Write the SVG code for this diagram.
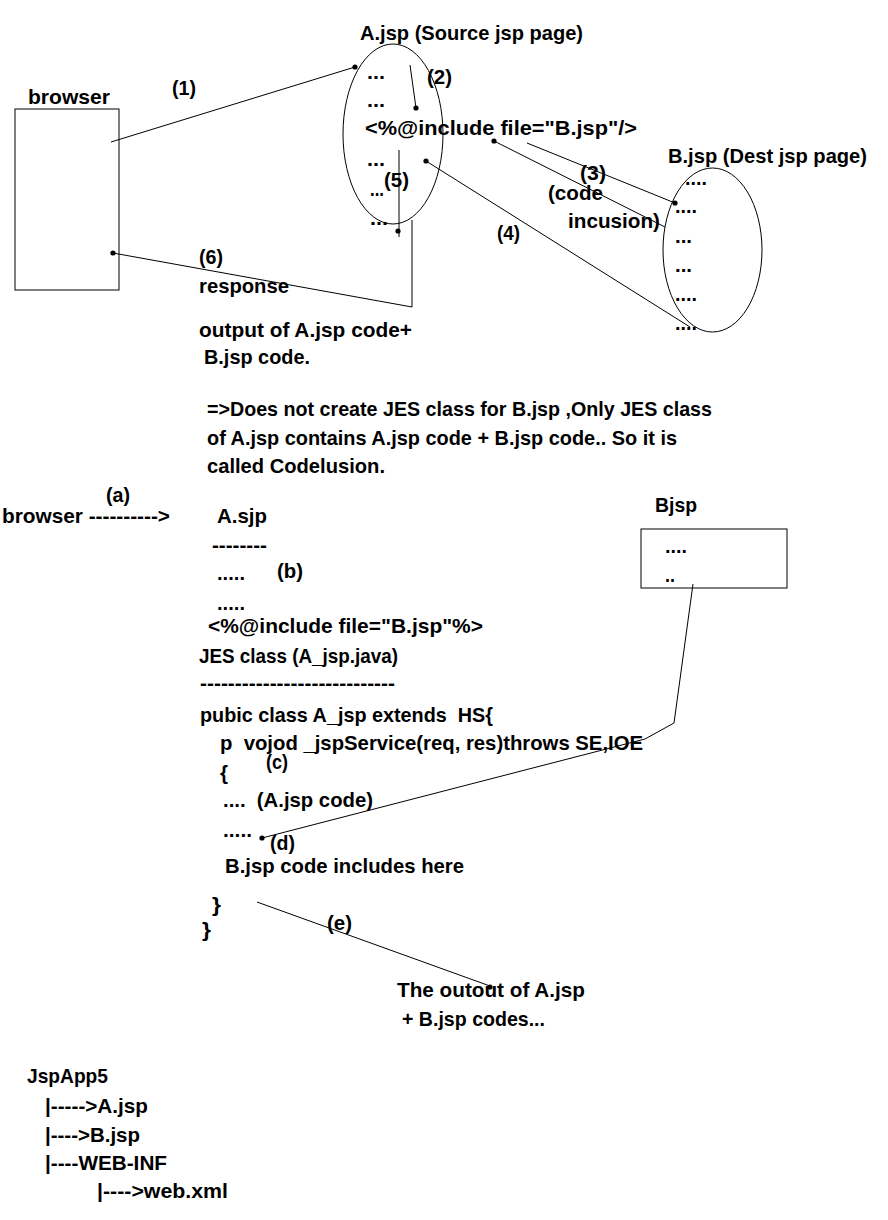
<svg xmlns="http://www.w3.org/2000/svg" width="888" height="1220" viewBox="0 0 888 1220">
<style>
.t{font-family:"Liberation Sans",Arial,sans-serif;font-weight:bold;font-size:21px;fill:#000;white-space:pre}
.ln{fill:none;stroke:#000;stroke-width:1}
.dot{fill:#000}
</style>
<rect width="888" height="1220" fill="#fff"/>
<g id="connectors">
<line class="ln" x1="111" y1="142" x2="355" y2="67"/>
<circle class="dot" cx="355" cy="67" r="2.6"/>
<line class="ln" x1="410" y1="65" x2="416" y2="108"/>
<circle class="dot" cx="416" cy="108" r="2.6"/>
<line class="ln" x1="494" y1="141" x2="665" y2="227"/>
<circle class="dot" cx="494" cy="141" r="2.6"/>
<line class="ln" x1="527" y1="143" x2="675" y2="203"/>
<circle class="dot" cx="675" cy="203" r="2.6"/>
<line class="ln" x1="426" y1="161" x2="690" y2="327"/>
<circle class="dot" cx="426" cy="161" r="2.6"/>
<line class="ln" x1="399" y1="150" x2="399" y2="237"/>
<circle class="dot" cx="398" cy="231" r="2.6"/>
<polyline class="ln" points="412,220 412,307 113,253"/>
<circle class="dot" cx="113" cy="253" r="2.6"/>
<polyline class="ln" points="693,584 674,723 645,739 262,838"/>
<circle class="dot" cx="262" cy="838" r="2.6"/>
<line class="ln" x1="257" y1="902" x2="490" y2="986"/>
<circle class="dot" cx="490" cy="987" r="2.6"/>
</g>
<g id="browser">
<rect class="ln" x="15" y="109" width="104" height="181"/>
<text class="t" x="28" y="104" textLength="82" lengthAdjust="spacingAndGlyphs">browser</text>
</g>
<g id="a-jsp">
<ellipse class="ln" cx="393" cy="134" rx="50" ry="90"/>
<text class="t" x="360" y="40" textLength="223" lengthAdjust="spacingAndGlyphs">A.jsp (Source jsp page)</text>
<text class="t" x="367" y="79" textLength="18" lengthAdjust="spacingAndGlyphs">...</text>
<text class="t" x="367" y="107" textLength="18" lengthAdjust="spacingAndGlyphs">...</text>
<text class="t" x="365" y="135" textLength="272" lengthAdjust="spacingAndGlyphs">&lt;%@include file="B.jsp"/&gt;</text>
<text class="t" x="367" y="166" textLength="18" lengthAdjust="spacingAndGlyphs">...</text>
<text class="t" x="370" y="196" textLength="14" lengthAdjust="spacingAndGlyphs">...</text>
<text class="t" x="370" y="225" textLength="18" lengthAdjust="spacingAndGlyphs">...</text>
</g>
<g id="b-jsp">
<ellipse class="ln" cx="712.5" cy="250" rx="49.5" ry="82"/>
<text class="t" x="668" y="163" textLength="199" lengthAdjust="spacingAndGlyphs">B.jsp (Dest jsp page)</text>
<text class="t" x="685" y="185" textLength="22" lengthAdjust="spacingAndGlyphs">....</text>
<text class="t" x="675" y="213" textLength="22" lengthAdjust="spacingAndGlyphs">....</text>
<text class="t" x="675" y="243" textLength="17" lengthAdjust="spacingAndGlyphs">...</text>
<text class="t" x="675" y="272" textLength="17" lengthAdjust="spacingAndGlyphs">...</text>
<text class="t" x="675" y="301" textLength="22" lengthAdjust="spacingAndGlyphs">....</text>
<text class="t" x="675" y="330" textLength="22" lengthAdjust="spacingAndGlyphs">....</text>
</g>
<g id="top-labels">
<text class="t" x="172" y="95" textLength="24" lengthAdjust="spacingAndGlyphs">(1)</text>
<text class="t" x="427" y="84" textLength="25" lengthAdjust="spacingAndGlyphs">(2)</text>
<text class="t" x="580" y="180" textLength="26" lengthAdjust="spacingAndGlyphs">(3)</text>
<text class="t" x="548" y="200" textLength="55" lengthAdjust="spacingAndGlyphs">(code</text>
<text class="t" x="568" y="228" textLength="92" lengthAdjust="spacingAndGlyphs">incusion)</text>
<text class="t" x="497" y="240" textLength="23" lengthAdjust="spacingAndGlyphs">(4)</text>
<text class="t" x="384" y="187" textLength="25" lengthAdjust="spacingAndGlyphs">(5)</text>
<text class="t" x="199" y="264" textLength="24" lengthAdjust="spacingAndGlyphs">(6)</text>
<text class="t" x="199" y="293" textLength="90" lengthAdjust="spacingAndGlyphs">response</text>
<text class="t" x="199" y="337" textLength="213" lengthAdjust="spacingAndGlyphs">output of A.jsp code+</text>
<text class="t" x="204" y="364" textLength="106" lengthAdjust="spacingAndGlyphs">B.jsp code.</text>
</g>
<g id="note">
<text class="t" x="207" y="416" textLength="505" lengthAdjust="spacingAndGlyphs">=&gt;Does not create JES class for B.jsp ,Only JES class</text>
<text class="t" x="207" y="445" textLength="470" lengthAdjust="spacingAndGlyphs">of A.jsp contains A.jsp code + B.jsp code.. So it is</text>
<text class="t" x="207" y="473" textLength="178" lengthAdjust="spacingAndGlyphs">called Codelusion.</text>
</g>
<g id="flow-a">
<text class="t" x="2" y="523" textLength="168" lengthAdjust="spacingAndGlyphs">browser ----------&gt;</text>
<text class="t" x="106" y="502" textLength="24" lengthAdjust="spacingAndGlyphs">(a)</text>
</g>
<g id="a-sjp">
<text class="t" x="217" y="523" textLength="50" lengthAdjust="spacingAndGlyphs">A.sjp</text>
<text class="t" x="212" y="552" textLength="55" lengthAdjust="spacingAndGlyphs">--------</text>
<text class="t" x="217" y="580" textLength="28" lengthAdjust="spacingAndGlyphs">.....</text>
<text class="t" x="277" y="578" textLength="26" lengthAdjust="spacingAndGlyphs">(b)</text>
<text class="t" x="217" y="610" textLength="28" lengthAdjust="spacingAndGlyphs">.....</text>
<text class="t" x="208" y="633" textLength="275" lengthAdjust="spacingAndGlyphs">&lt;%@include file="B.jsp"%&gt;</text>
</g>
<g id="jes-class">
<text class="t" x="199" y="663" textLength="199" lengthAdjust="spacingAndGlyphs">JES class (A_jsp.java)</text>
<text class="t" x="200" y="690" textLength="195" lengthAdjust="spacingAndGlyphs">----------------------------</text>
<text class="t" x="200" y="722" textLength="293" lengthAdjust="spacingAndGlyphs">pubic class A_jsp extends  HS{</text>
<text class="t" x="220" y="750" textLength="423" lengthAdjust="spacingAndGlyphs">p  vojod _jspService(req, res)throws SE,IOE</text>
<text class="t" x="266" y="769" textLength="22" lengthAdjust="spacingAndGlyphs">(c)</text>
<text class="t" x="220" y="780" textLength="8" lengthAdjust="spacingAndGlyphs">{</text>
<text class="t" x="223" y="807" textLength="150" lengthAdjust="spacingAndGlyphs">....  (A.jsp code)</text>
<text class="t" x="223" y="837" textLength="29" lengthAdjust="spacingAndGlyphs">.....</text>
<text class="t" x="270" y="850" textLength="25" lengthAdjust="spacingAndGlyphs">(d)</text>
<text class="t" x="225" y="873" textLength="239" lengthAdjust="spacingAndGlyphs">B.jsp code includes here</text>
<text class="t" x="212" y="912" textLength="9" lengthAdjust="spacingAndGlyphs">}</text>
<text class="t" x="202" y="937" textLength="9" lengthAdjust="spacingAndGlyphs">}</text>
</g>
<g id="output">
<text class="t" x="327" y="930" textLength="25" lengthAdjust="spacingAndGlyphs">(e)</text>
<text class="t" x="397" y="997" textLength="188" lengthAdjust="spacingAndGlyphs">The outout of A.jsp</text>
<text class="t" x="402" y="1026" textLength="143" lengthAdjust="spacingAndGlyphs">+ B.jsp codes...</text>
</g>
<g id="bjsp">
<text class="t" x="655" y="512" textLength="42" lengthAdjust="spacingAndGlyphs">Bjsp</text>
<rect class="ln" x="641" y="529" width="146" height="59"/>
<text class="t" x="665" y="553" textLength="22" lengthAdjust="spacingAndGlyphs">....</text>
<text class="t" x="665" y="582" textLength="10" lengthAdjust="spacingAndGlyphs">..</text>
</g>
<g id="tree">
<text class="t" x="27" y="1083" textLength="81" lengthAdjust="spacingAndGlyphs">JspApp5</text>
<text class="t" x="45" y="1113" textLength="103" lengthAdjust="spacingAndGlyphs">|-----&gt;A.jsp</text>
<text class="t" x="45" y="1142" textLength="95" lengthAdjust="spacingAndGlyphs">|----&gt;B.jsp</text>
<text class="t" x="45" y="1170" textLength="122" lengthAdjust="spacingAndGlyphs">|----WEB-INF</text>
<text class="t" x="97" y="1198" textLength="131" lengthAdjust="spacingAndGlyphs">|----&gt;web.xml</text>
</g>
</svg>
